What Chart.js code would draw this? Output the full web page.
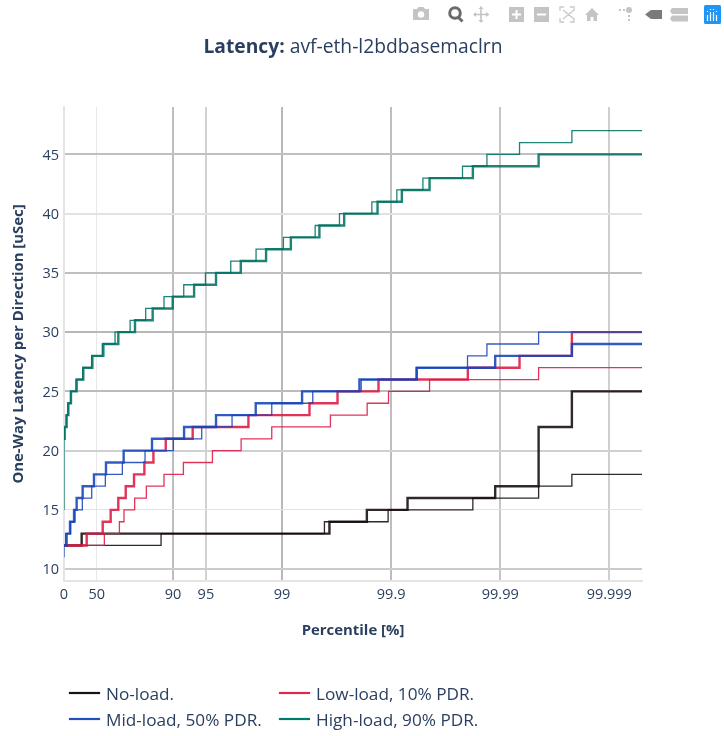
<!DOCTYPE html>
<html>
<head>
<meta charset="utf-8">
<title>Latency</title>
<script src="https://cdn.jsdelivr.net/npm/chart.js@4"></script>
<style>
  html, body { margin: 0; padding: 0; background: #fff; }
  #wrap { position: relative; width: 724px; height: 736px; overflow: hidden; font-family: "Open Sans", sans-serif; color: #2a3f5f; }
  canvas { position: absolute; left: 0; top: 0; }
  #title { position: absolute; left: 0; width: 706px; top: 33px; text-align: center; font-size: 19.25px; line-height: 26px; }
  .leg { position: absolute; font-size: 17.2px; line-height: 24px; white-space: nowrap; }
  .swatch { position: absolute; width: 31px; height: 2px; }
  #modebar { position: absolute; left: 400px; top: 0; }
</style>
</head>
<body>
<div id="wrap">
  <canvas id="latency" width="724" height="736"></canvas>
  <div id="title"><b>Latency:</b> avf-eth-l2bdbasemaclrn</div>
  <svg id="modebar" width="324" height="30" fill="#c4c4c4">
    <!-- camera -->
    <path d="M13 9h4l1.500-2h5l1.500 2h4v11h-16z"/><circle cx="21" cy="14.500" r="3.200" fill="#fff"/>
    <!-- zoom, active -->
    <circle cx="55" cy="13" r="5.300" fill="none" stroke="#6b6b6b" stroke-width="3"/><path d="M58 17l4.500 4.500" stroke="#6b6b6b" stroke-width="3"/>
    <!-- pan -->
    <path d="M81 7v15M74 14.500h15" stroke="#c4c4c4" stroke-width="1.600"/><path d="M81 6l-2.500 3h5zM81 23l-2.500-3h5zM73 14.500l3-2.500v5zM89 14.500l-3-2.500v5z"/>
    <!-- zoom in, zoom out -->
    <path d="M109 7h15v15h-15z"/><path d="M116.500 10v9M112 14.500h9" stroke="#fff" stroke-width="2"/>
    <path d="M134 7h15v15h-15z"/><path d="M137 14.500h9" stroke="#fff" stroke-width="2"/>
    <!-- autoscale -->
    <path d="M160 11V7h4M170 7h4v4M174 18v4h-4M164 22h-4v-4M163 10l11 9M174 10l-11 9" fill="none" stroke="#c9c9c9" stroke-width="1.300"/>
    <!-- home -->
    <path d="M185 15l7-7 7 7h-2v6h-3.500v-4h-3v4H187v-6z"/>
    <!-- spikes -->
    <circle cx="229" cy="10" r="3"/><path d="M219 10h2M223 10h2M229 15v2M229 19v2" stroke="#c4c4c4" stroke-width="2"/>
    <!-- hover closest, compare -->
    <path d="M245 14.500l6-4.500h11v9h-11z" fill="#7a7a7a"/>
    <path d="M272 8h16v6h-16l-2-3zM272 15.500h16v6h-16l-2-3z"/>
    <!-- plotly logo -->
    <rect x="304" y="5" width="17" height="19" rx="1.500" fill="#1f96f3"/>
    <path d="M307.500 21v-6M310.500 21v-9M313.500 21v-9M316.500 21v-6M307.500 11v1M310.500 9v1M313.500 9v1M316.500 11v1" stroke="#fff" stroke-width="1.200"/>
  </svg>
  <div class="swatch" style="left:69px;top:692px;background:#1a1212;box-shadow:0 0 1px #1a1212"></div>
  <div class="leg" style="left:106px;top:682px">No-load.</div>
  <div class="swatch" style="left:279px;top:692px;background:#e0284f;box-shadow:0 0 1px #e0284f"></div>
  <div class="leg" style="left:316px;top:682px">Low-load, 10% PDR.</div>
  <div class="swatch" style="left:69px;top:718px;background:#2050c0;box-shadow:0 0 1px #2050c0"></div>
  <div class="leg" style="left:106px;top:708px">Mid-load, 50% PDR.</div>
  <div class="swatch" style="left:279px;top:718px;background:#007a6b;box-shadow:0 0 1px #007a6b"></div>
  <div class="leg" style="left:316px;top:708px">High-load, 90% PDR.</div>
</div>
<script>
// x values are "nines": 0 = 0%, 1 = 90%, 2 = 99%, 3 = 99.9% ...
const xTickNines = [0, 0.301, 1, 1.301, 2, 3, 4, 5];
const xTickLabels = ["0", "50", "90", "95", "99", "99.9", "99.99", "99.999"];
const yTickValues = [10, 15, 20, 25, 30, 35, 40, 45];

const noLoadThinX = [0, 0.890, 2.388, 2.972, 3.749, 4.352, 4.657, 5.3];
const noLoadThinY = [12, 13, 14, 15, 16, 17, 18, 18];
const noLoadBoldX = [0, 0.162, 2.434, 2.777, 3.150, 3.954, 4.352, 4.657, 5.3];
const noLoadBoldY = [12, 13, 14, 15, 16, 17, 22, 25, 25];

const lowLoadThinX = [0, 0.370, 0.508, 0.550, 0.648, 0.755, 0.917, 1.095, 1.361, 1.624, 1.905, 2.443, 2.780, 2.976, 3.352, 4.352, 5.3];
const lowLoadThinY = [12, 13, 14, 15, 16, 17, 18, 19, 20, 21, 22, 23, 24, 25, 26, 27, 27];
const lowLoadBoldX = [0, 0.208, 0.355, 0.428, 0.498, 0.566, 0.642, 0.737, 0.820, 0.933, 1.180, 1.691, 2.251, 2.508, 2.884, 3.703, 4.177, 4.657, 5.3];
const lowLoadBoldY = [12, 13, 14, 15, 16, 17, 18, 19, 20, 21, 22, 23, 24, 25, 26, 27, 28, 30, 30];

const midLoadThinX = [0, 0, 0.015, 0.061, 0.101, 0.168, 0.254, 0.379, 0.535, 0.743, 1.003, 1.263, 1.541, 1.905, 2.281, 2.725, 3.229, 3.700, 3.878, 4.352, 5.3];
const midLoadThinY = [11, 12, 13, 14, 15, 16, 17, 18, 19, 20, 21, 22, 23, 24, 25, 26, 27, 28, 29, 30, 30];
const midLoadBoldX = [0, 0.024, 0.055, 0.092, 0.116, 0.171, 0.275, 0.385, 0.547, 0.807, 1.101, 1.394, 1.758, 2.183, 2.709, 3.235, 3.954, 4.657, 5.3];
const midLoadBoldY = [12, 13, 14, 15, 16, 17, 18, 19, 20, 21, 22, 23, 24, 25, 26, 27, 28, 29, 29];

const highLoadThinX = [0, 0, 0.004, 0.020, 0.035, 0.060, 0.110, 0.172, 0.253, 0.351, 0.468, 0.606, 0.749, 0.917, 1.098, 1.297, 1.529, 1.761, 2.012, 2.303, 2.526, 2.823, 3.052, 3.291, 3.654, 3.878, 4.177, 4.657, 5.3];
const highLoadThinY = [15, 21, 22, 23, 24, 25, 26, 27, 28, 29, 30, 31, 32, 33, 34, 35, 36, 37, 38, 39, 40, 41, 42, 43, 44, 45, 46, 47, 47];
const highLoadBoldX = [0, 0.006, 0.024, 0.040, 0.064, 0.116, 0.177, 0.260, 0.361, 0.498, 0.651, 0.813, 0.997, 1.193, 1.394, 1.621, 1.853, 2.080, 2.342, 2.569, 2.875, 3.098, 3.352, 3.749, 4.352, 5.3];
const highLoadBoldY = [21, 22, 23, 24, 25, 26, 27, 28, 29, 30, 31, 32, 33, 34, 35, 36, 37, 38, 39, 40, 41, 42, 43, 44, 45, 45];

const xGridColors = ["#e4e4e4", "#e8e8e8", "#bdbdbd", "#d2d2d2", "#b8b8b8", "#bdbdbd", "#c6c6c6", "#cfcfcf"];
const xGridWidths = [2, 1, 2, 2, 2, 2, 2, 2];
const yGridColors = ["#cbcbcb", "#e3e3e3", "#d0d0d0", "#bcbcbc", "#b8b8b8", "#c0c0c0", "#e2e2e2", "#c0c0c0"];
const yGridWidths = [2, 1, 2, 2, 2, 2, 2, 2];

// slightly see-through, red shows purple under blue like the original
const BLACK = "rgba(20, 10, 10, 0.88)";
const RED = "rgba(222, 24, 66, 0.88)";
const BLUE = "rgba(22, 68, 186, 0.88)";
const TEAL = "rgba(0, 114, 98, 0.88)";
const THIN = 1.3;
const BOLD = 2.4;
const TICK_FONT = { family: "'Open Sans'", size: 14.5 };

function stepLine(xs, ys, color, width) {
  return {
    data: xs.map((x, i) => ({ x: x, y: ys[i] })),
    stepped: "before",
    borderColor: color,
    borderWidth: width,
    borderJoinStyle: "miter",
    pointRadius: 0,
    fill: false,
  };
}

new Chart(document.getElementById("latency"), {
  type: "line",
  data: {
    // Chart.js paints the first dataset last, so high-load comes first to stay on top
    datasets: [
      stepLine(highLoadBoldX, highLoadBoldY, TEAL, BOLD),
      stepLine(highLoadThinX, highLoadThinY, TEAL, THIN),
      stepLine(midLoadBoldX, midLoadBoldY, BLUE, BOLD),
      stepLine(midLoadThinX, midLoadThinY, BLUE, THIN),
      stepLine(lowLoadBoldX, lowLoadBoldY, RED, BOLD),
      stepLine(lowLoadThinX, lowLoadThinY, RED, THIN),
      stepLine(noLoadBoldX, noLoadBoldY, BLACK, BOLD),
      stepLine(noLoadThinX, noLoadThinY, BLACK, THIN),
    ],
  },
  options: {
    responsive: false,
    animation: false,
    layout: { padding: { top: 107, right: 82, left: 0, bottom: 0 } },
    plugins: { legend: { display: false }, tooltip: { enabled: false } },
    scales: {
      x: {
        type: "linear",
        min: 0,
        max: 5.3,
        afterBuildTicks: (scale) => {
          scale.ticks = xTickNines.map((v) => ({ value: v }));
        },
        afterFit: (scale) => {
          scale.height = 155;
        },
        ticks: {
          autoSkip: false,
          maxRotation: 0,
          padding: 5,
          color: "#2a3f5f",
          font: TICK_FONT,
          callback: (value, index) => xTickLabels[index],
        },
        grid: {
          drawTicks: false,
          color: (ctx) => xGridColors[ctx.index],
          lineWidth: (ctx) => xGridWidths[ctx.index],
        },
        border: { color: "#e4e4e4", width: 2 },
        title: {
          display: true,
          text: "Percentile [%]",
          color: "#2a3f5f",
          font: { family: "'Open Sans'", size: 14.9, weight: "bold" },
          padding: { top: 0, bottom: 96 },
        },
      },
      y: {
        type: "linear",
        min: 9,
        max: 49,
        afterBuildTicks: (scale) => {
          scale.ticks = yTickValues.map((v) => ({ value: v }));
        },
        afterFit: (scale) => {
          scale.width = 64;
        },
        ticks: {
          padding: 5,
          labelOffset: 1,
          color: "#2a3f5f",
          font: TICK_FONT,
        },
        grid: {
          drawTicks: false,
          color: (ctx) => yGridColors[ctx.index],
          lineWidth: (ctx) => yGridWidths[ctx.index],
        },
        border: { color: "#e4e4e4", width: 2 },
        title: {
          display: true,
          text: "One-Way Latency per Direction [uSec]",
          color: "#2a3f5f",
          font: { family: "'Open Sans'", size: 14.9, weight: "bold" },
          padding: { top: 10, bottom: 0 },
        },
      },
    },
  },
});
</script>
</body>
</html>
